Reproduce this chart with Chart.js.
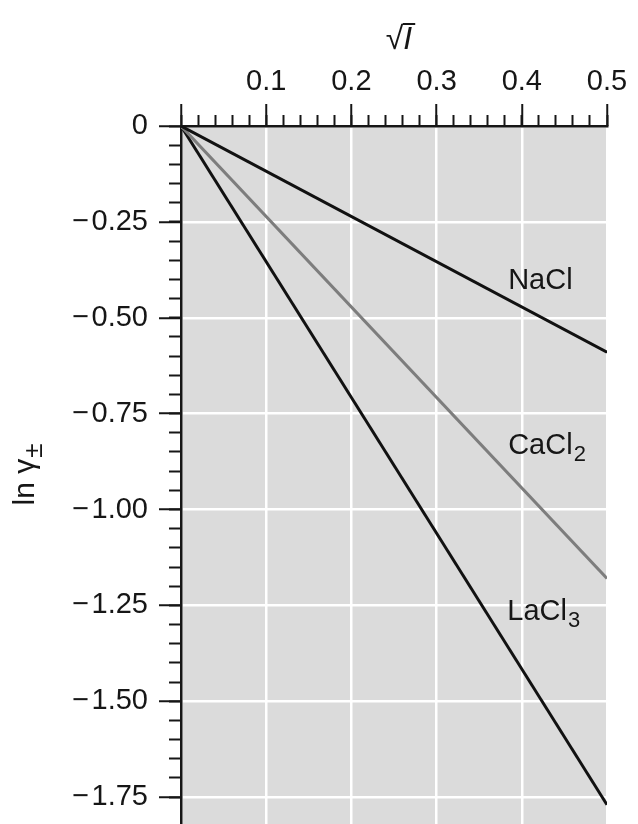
<!DOCTYPE html>
<html>
<head>
<meta charset="utf-8">
<script src="https://cdn.jsdelivr.net/npm/chart.js@4.4.1/dist/chart.umd.min.js"></script>
<style>
html,body{margin:0;padding:0;background:#ffffff;}
#wrap{width:638px;height:824px;position:relative;}
</style>
</head>
<body>
<div id="wrap"><canvas id="c" width="638" height="824"></canvas></div>
<script>
// ---- data ----
const sqrtI = [0, 0.5];
const lnGammaNaCl = [0, -0.59];
const lnGammaCaCl2 = [0, -1.18];
const lnGammaLaCl3 = [0, -1.77];
const seriesNames = ['NaCl', 'CaCl₂', 'LaCl₃'];
const xTickValues = [0, 0.1, 0.2, 0.3, 0.4, 0.5];
const xTickLabels = ['', '0.1', '0.2', '0.3', '0.4', '0.5'];
const yTickValues = [0, -0.25, -0.5, -0.75, -1.0, -1.25, -1.5, -1.75];
const yTickLabels = ['0', '\u2212\u200A0.25', '\u2212\u200A0.50', '\u2212\u200A0.75', '\u2212\u200A1.00', '\u2212\u200A1.25', '\u2212\u200A1.50', '\u2212\u200A1.75'];
const xTitle = '√I';
const yTitle = 'ln γ±';

const FONT = "'Liberation Sans', Arial, Helvetica, sans-serif";
const INK = '#161616';

function pts(xs, ys) { return xs.map((x, i) => ({x: x, y: ys[i]})); }
function labelFor(values, labels, v) {
  for (let i = 0; i < values.length; i++) if (Math.abs(values[i] - v) < 1e-6) return labels[i];
  return '';
}

// split a name like 'CaCl₂' into normal text and a subscript part
const SUBS = {'₀':'0','₁':'1','₂':'2','₃':'3','₄':'4','₅':'5','₆':'6','₇':'7','₈':'8','₉':'9'};
function splitSub(s) {
  let base = '', sub = '';
  for (const ch of s) { if (SUBS[ch]) sub += SUBS[ch]; else base += ch; }
  return {base, sub};
}

const bgPlugin = {
  id: 'plotBg',
  beforeDraw(chart) {
    const a = chart.chartArea, ctx = chart.ctx;
    ctx.save();
    ctx.fillStyle = '#dbdbdb';
    ctx.fillRect(a.left, a.top, a.right - a.left, a.bottom - a.top);
    ctx.restore();
  }
};

// label anchors (value coordinates) for the series names
const labelAnchors = [
  {x: 0.384, y: -0.425},
  {x: 0.384, y: -0.855},
  {x: 0.383, y: -1.288}
];
const seriesLabelPlugin = {
  id: 'seriesLabels',
  afterDatasetsDraw(chart) {
    const ctx = chart.ctx, xs = chart.scales.x, ys = chart.scales.y;
    ctx.save();
    ctx.fillStyle = INK;
    ctx.textAlign = 'left';
    ctx.textBaseline = 'alphabetic';
    seriesNames.forEach((n, i) => {
      const p = splitSub(n);
      const px = xs.getPixelForValue(labelAnchors[i].x), py = ys.getPixelForValue(labelAnchors[i].y);
      ctx.font = '29px ' + FONT;
      ctx.fillText(p.base, px, py);
      if (p.sub) {
        const w = ctx.measureText(p.base).width;
        ctx.font = '22px ' + FONT;
        ctx.fillText(p.sub, px + w + 1, py + 7);
      }
    });
    ctx.restore();
  }
};

// axis titles: √I with overbar and italic I; ln γ with subscript ±
const titlePlugin = {
  id: 'axisTitles',
  afterDraw(chart) {
    const ctx = chart.ctx, a = chart.chartArea;
    ctx.save();
    ctx.fillStyle = INK;
    ctx.strokeStyle = INK;
    ctx.textBaseline = 'alphabetic';
    ctx.textAlign = 'left';
    // x title
    const rad = xTitle.charAt(0), letter = xTitle.slice(1);
    const cx = 399, by = 49;
    ctx.font = '32px ' + FONT;
    const mR = ctx.measureText(rad);
    ctx.font = 'italic 32px ' + FONT;
    const mI = ctx.measureText(letter);
    const total = mR.width + mI.width;
    const x0 = cx - total / 2;
    ctx.font = '32px ' + FONT;
    ctx.fillText(rad, x0, by);
    ctx.font = 'italic 32px ' + FONT;
    ctx.fillText(letter, x0 + mR.width, by);
    const topY = by - mR.actualBoundingBoxAscent + 1;
    ctx.lineWidth = 2;
    ctx.beginPath();
    ctx.moveTo(x0 + mR.actualBoundingBoxRight - 1, topY);
    ctx.lineTo(x0 + total + 3, topY);
    ctx.stroke();
    // y title (rotated, reads bottom to top)
    const main = yTitle.slice(0, -1), sub = yTitle.slice(-1);
    ctx.font = '30px ' + FONT;
    const wMain = ctx.measureText(main).width;
    ctx.font = '26px ' + FONT;
    const wSub = ctx.measureText(sub).width;
    const tw = wMain + wSub;
    ctx.translate(34, (a.top + a.bottom) / 2);
    ctx.rotate(-Math.PI / 2);
    ctx.font = '30px ' + FONT;
    ctx.fillText(main, -tw / 2, 0);
    ctx.font = '26px ' + FONT;
    ctx.fillText(sub, -tw / 2 + wMain + 1, 8);
    ctx.restore();
  }
};

function noPad(s) { s.paddingTop = 0; s.paddingBottom = 0; }

new Chart(document.getElementById('c'), {
  type: 'line',
  data: {
    datasets: [
      {label: seriesNames[0], data: pts(sqrtI, lnGammaNaCl), borderColor: '#111111', borderWidth: 3, pointRadius: 0, fill: false},
      {label: seriesNames[1], data: pts(sqrtI, lnGammaCaCl2), borderColor: '#7d7d7d', borderWidth: 3, pointRadius: 0, fill: false},
      {label: seriesNames[2], data: pts(sqrtI, lnGammaLaCl3), borderColor: '#111111', borderWidth: 3, pointRadius: 0, fill: false}
    ]
  },
  options: {
    responsive: false,
    animation: false,
    events: [],
    layout: {padding: {left: 0, right: 31, top: 0, bottom: 0}},
    plugins: {legend: {display: false}, tooltip: {enabled: false}},
    scales: {
      x: {
        type: 'linear', position: 'top', min: 0, max: 0.5, weight: 1,
        afterBuildTicks: s => { s.ticks = xTickValues.map(v => ({value: v})); },
        afterFit: s => { s.height = 126; },
        ticks: {
          callback: v => labelFor(xTickValues, xTickLabels, v),
          font: {size: 29, family: FONT}, color: INK, padding: 5,
          maxRotation: 0, autoSkip: false
        },
        grid: {color: '#ffffff', lineWidth: 2.5, tickLength: 22, tickColor: INK, tickWidth: 2},
        border: {color: INK, width: 2.5},
        title: {display: false, text: xTitle}
      },
      x2: {
        type: 'linear', position: 'top', min: 0, max: 0.5, weight: 0,
        afterFit: s => { s.height = 0; },
        ticks: {display: false, stepSize: 0.02, maxTicksLimit: 1000},
        grid: {drawOnChartArea: false, tickLength: 11, tickColor: INK, tickWidth: 2},
        border: {display: false}
      },
      y: {
        type: 'linear', position: 'left', min: -1.82, max: 0, weight: 1,
        afterBuildTicks: s => { s.ticks = yTickValues.map(v => ({value: v})); },
        afterFit: s => { s.width = 181; noPad(s); },
        ticks: {
          callback: v => labelFor(yTickValues, yTickLabels, v),
          font: {size: 29, family: FONT}, color: INK, padding: 11, autoSkip: false
        },
        grid: {color: '#ffffff', lineWidth: 2.5, tickLength: 22, tickColor: INK, tickWidth: 2},
        border: {color: INK, width: 2.5},
        title: {display: false, text: yTitle}
      },
      y2: {
        type: 'linear', position: 'left', min: -1.82, max: 0, weight: 0,
        afterBuildTicks: s => { s.ticks = s.ticks.filter(t => Math.abs(Math.round(t.value / 0.05) * 0.05 - t.value) < 1e-6); },
        afterFit: s => { s.width = 0; noPad(s); },
        ticks: {display: false, stepSize: 0.05, maxTicksLimit: 1000},
        grid: {drawOnChartArea: false, tickLength: 12, tickColor: INK, tickWidth: 2},
        border: {display: false}
      }
    }
  },
  plugins: [bgPlugin, seriesLabelPlugin, titlePlugin]
});
</script>
</body>
</html>
